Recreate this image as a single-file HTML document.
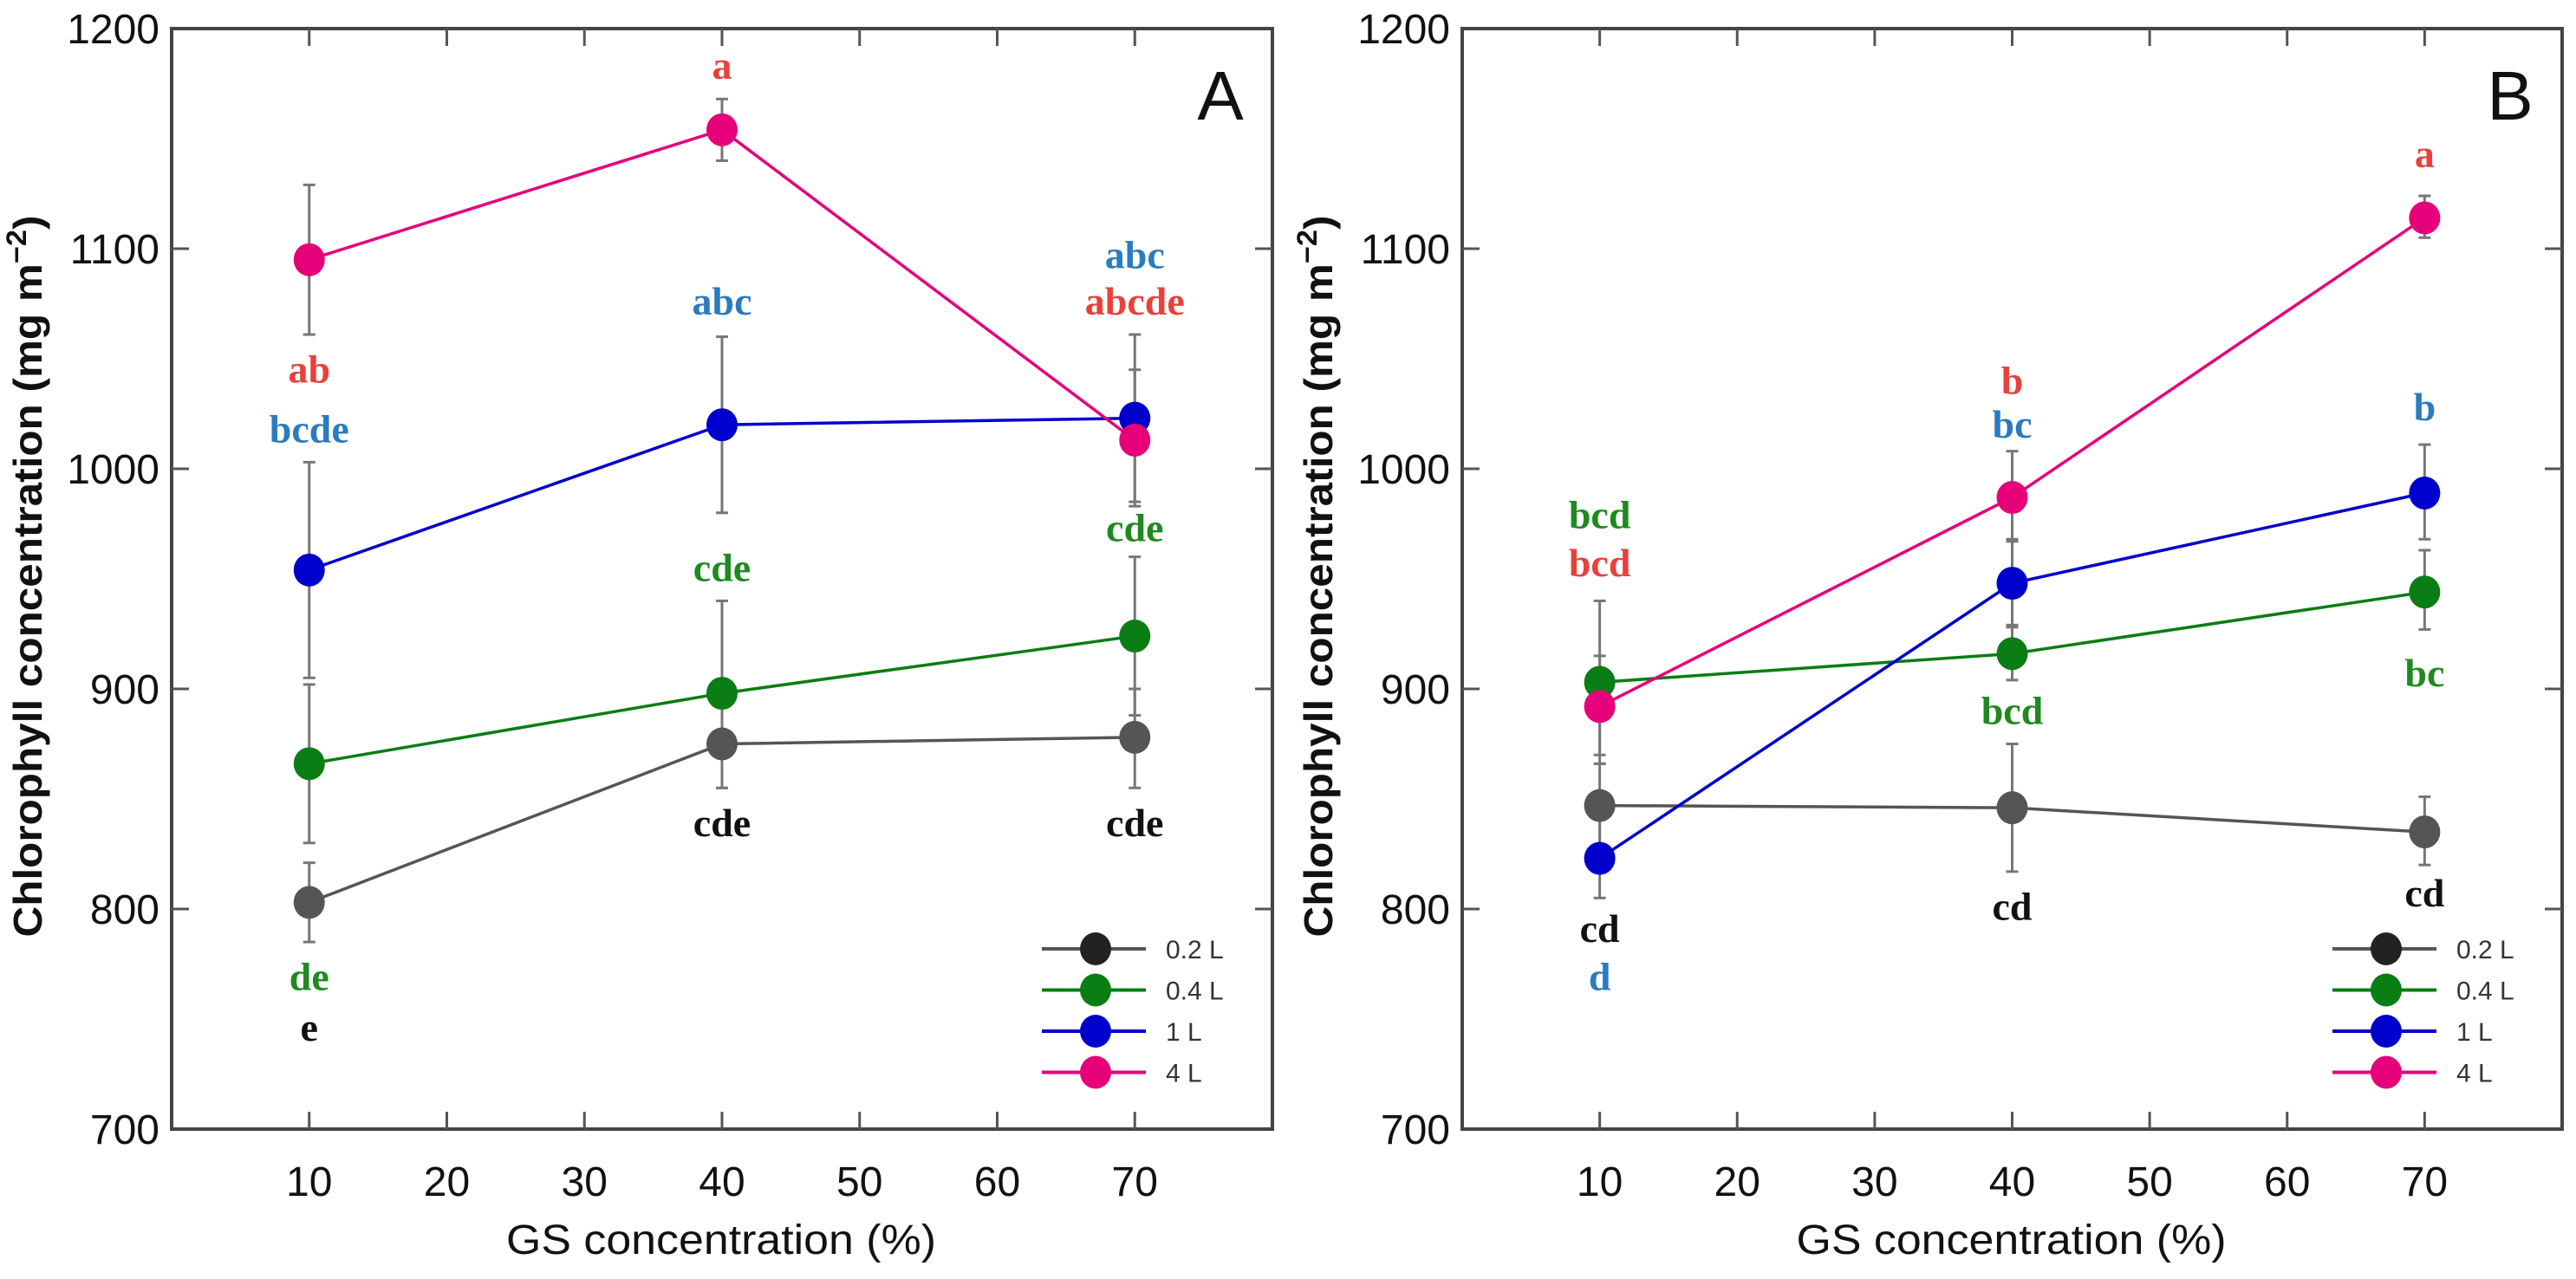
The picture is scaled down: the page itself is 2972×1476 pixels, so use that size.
<!DOCTYPE html>
<html><head><meta charset="utf-8"><style>
html,body{margin:0;padding:0;background:#fff;}
svg{display:block;}
</style></head><body>
<svg id="chart" width="2972" height="1476" viewBox="0 0 2972 1476" xmlns="http://www.w3.org/2000/svg"></svg>
<script>
const xCats = [10, 40, 70];
const xTicks = [10, 20, 30, 40, 50, 60, 70];
const yTicks = [700, 800, 900, 1000, 1100, 1200];
const seriesNames = ["0.2 L", "0.4 L", "1 L", "4 L"];
const seriesColors = ["#555555", "#0a7d14", "#0000cc", "#e6007a"];
// Panel A
const aMean02 = [803, 875, 878];
const aLo02 = [785, 855, 855];
const aHi02 = [821, 893, 900];
const aMean04 = [866, 898, 924];
const aLo04 = [830, 855, 888];
const aHi04 = [902, 940, 960];
const aMean1 = [954, 1020, 1023];
const aLo1 = [905, 980, 985];
const aHi1 = [1003, 1060, 1061];
const aMean4 = [1095, 1154, 1013];
const aLo4 = [1061, 1140, 983];
const aHi4 = [1129, 1168, 1045];
// Panel B
const bMean02 = [847, 846, 835];
const bLo02 = [828, 817, 820];
const bHi02 = [866, 875, 851];
const bMean04 = [903, 916, 944];
const bLo04 = [866, 904, 927];
const bHi04 = [940, 929, 963];
const bMean1 = [823, 948, 989];
const bLo1 = [805, 928, 968];
const bHi1 = [842, 968, 1011];
const bMean4 = [892, 987, 1114];
const bLo4 = [870, 967, 1105];
const bHi4 = [915, 1008, 1124];
// Significance letters: [x, yValue, text, colorIndex]
const aLetters = [[10,1045,"ab",3],[10,1018,"bcde",2],[10,769,"de",1],[10,746,"e",0],
  [40,1183,"a",3],[40,1076,"abc",2],[40,955,"cde",1],[40,839,"cde",0],
  [70,1097,"abc",2],[70,1076,"abcde",3],[70,973,"cde",1],[70,839,"cde",0]];
const bLetters = [[10,979,"bcd",1],[10,957,"bcd",3],[10,791,"cd",0],[10,769,"d",2],
  [40,1040,"b",3],[40,1020,"bc",2],[40,890,"bcd",1],[40,801,"cd",0],
  [70,1143,"a",3],[70,1028,"b",2],[70,907,"bc",1],[70,807,"cd",0]];
const letterColors = ["#111111", "#1f8a1f", "#2a7bbf", "#e8413c"];

const NS = "http://www.w3.org/2000/svg";
const svg = document.getElementById("chart");
function mk(tag, attrs, parent, txt){
  const e = document.createElementNS(NS, tag);
  for (const k in attrs) e.setAttribute(k, attrs[k]);
  if (txt !== undefined) e.textContent = txt;
  (parent||svg).appendChild(e);
  return e;
}

function drawPanel(id, left, right, label, means, los, his, letters){
  const top = 33, bottom = 1303;
  const xs = v => left + (v - 0) / 80 * (right - left);
  const ys = v => bottom - (v - 700) / 500 * (bottom - top);
  const g = mk("g", {});
  
  
  const fr = mk("rect", {x:left, y:top, width:right-left, height:bottom-top, fill:"none", stroke:"#444", "stroke-width":4}, g);
  
  
  yTicks.forEach(t => {
    const y = ys(t);
    if (t > 700 && t < 1200) {
      mk("line", {x1:left, x2:left+20, y1:y, y2:y, stroke:"#555", "stroke-width":3}, g);
      mk("line", {x1:right, x2:right-20, y1:y, y2:y, stroke:"#555", "stroke-width":3}, g);
    }
    const tl = mk("text", {x:left-14, y:y+17, "text-anchor":"end", "font-family":"Liberation Sans, sans-serif", "font-size":48, fill:"#111"}, g, String(t));
    
    
  });
  xTicks.forEach(t => {
    const x = xs(t);
    mk("line", {x1:x, x2:x, y1:bottom, y2:bottom-20, stroke:"#555", "stroke-width":3}, g);
    mk("line", {x1:x, x2:x, y1:top, y2:top+20, stroke:"#555", "stroke-width":3}, g);
    const tl = mk("text", {x:x, y:1380, "text-anchor":"middle", "font-family":"Liberation Sans, sans-serif", "font-size":48, fill:"#111"}, g, String(t));
    
    
  });
  const xt = mk("text", {x:(left+right)/2 - 1, y:1447, "text-anchor":"middle", "font-family":"Liberation Sans, sans-serif", "font-size":48, fill:"#111", textLength:496, lengthAdjust:"spacingAndGlyphs"}, g, "GS concentration (%)");
  
  
  const cx = left - 150, cy = 665;
  const yt = mk("text", {x:cx, y:cy, "text-anchor":"middle", "font-family":"Liberation Sans, sans-serif", "font-size":46, "font-weight":"bold", fill:"#111", textLength:833, lengthAdjust:"spacingAndGlyphs", transform:`rotate(-90 ${cx} ${cy})`}, g);
  
  
  mk("tspan", {}, yt, "Chlorophyll concentration (mg m");
  mk("tspan", {dy:-18, "font-size":32}, yt, "−2");
  mk("tspan", {dy:18}, yt, ")");
  const pl = mk("text", {x:right-60, y:138, "text-anchor":"middle", "font-family":"Liberation Sans, sans-serif", "font-size":80, fill:"#111"}, g, label);
  
  
  means.forEach((m, si) => {
    xCats.forEach((c, i) => {
      const x = xs(c);
      const eb = mk("g", {stroke:"#777", "stroke-width":3}, g);
      
      
      mk("line", {x1:x, x2:x, y1:ys(los[si][i]), y2:ys(his[si][i])}, eb);
      mk("line", {x1:x-7, x2:x+7, y1:ys(los[si][i]), y2:ys(los[si][i])}, eb);
      mk("line", {x1:x-7, x2:x+7, y1:ys(his[si][i]), y2:ys(his[si][i])}, eb);
    });
  });
  means.forEach((m, si) => {
    const pts = xCats.map((c, i) => xs(c) + "," + ys(m[i])).join(" ");
    const pl2 = mk("polyline", {points:pts, fill:"none", stroke:seriesColors[si], "stroke-width":3.5}, g);
    
    
  });
  means.forEach((m, si) => {
    xCats.forEach((c, i) => {
      const p = mk("ellipse", {cx:xs(c), cy:ys(m[i]), rx:18, ry:19, fill:seriesColors[si]}, g);
      
      
    });
  });
  letters.forEach(L => {
    const t = mk("text", {x:xs(L[0]), y:ys(L[1]) + 15, "text-anchor":"middle", "font-family":"Liberation Serif, serif", "font-size":46, "font-weight":"bold", fill:letterColors[L[3]]}, g, L[2]);
    
    
  });
  const lg = mk("g", {}, g);
  
  
  seriesNames.forEach((n, si) => {
    const y = 1095 + si * 47.5;
    const lx = left + 1004;
    const le = mk("g", {}, lg);
    
    
    mk("line", {x1:lx, x2:lx+120, y1:y, y2:y, stroke:seriesColors[si], "stroke-width":4}, le);
    mk("ellipse", {cx:lx+62, cy:y, rx:18, ry:19, fill:si===0?"#222":seriesColors[si]}, le);
    mk("text", {x:lx+143, y:y+11, "font-family":"Liberation Sans, sans-serif", "font-size":30, fill:"#333"}, le, n);
  });
}

drawPanel("a", 198, 1468, "A",
  [aMean02, aMean04, aMean1, aMean4], [aLo02, aLo04, aLo1, aLo4], [aHi02, aHi04, aHi1, aHi4], aLetters);
drawPanel("b", 1687, 2956, "B",
  [bMean02, bMean04, bMean1, bMean4], [bLo02, bLo04, bLo1, bLo4], [bHi02, bHi04, bHi1, bHi4], bLetters);
</script>
</body></html>
